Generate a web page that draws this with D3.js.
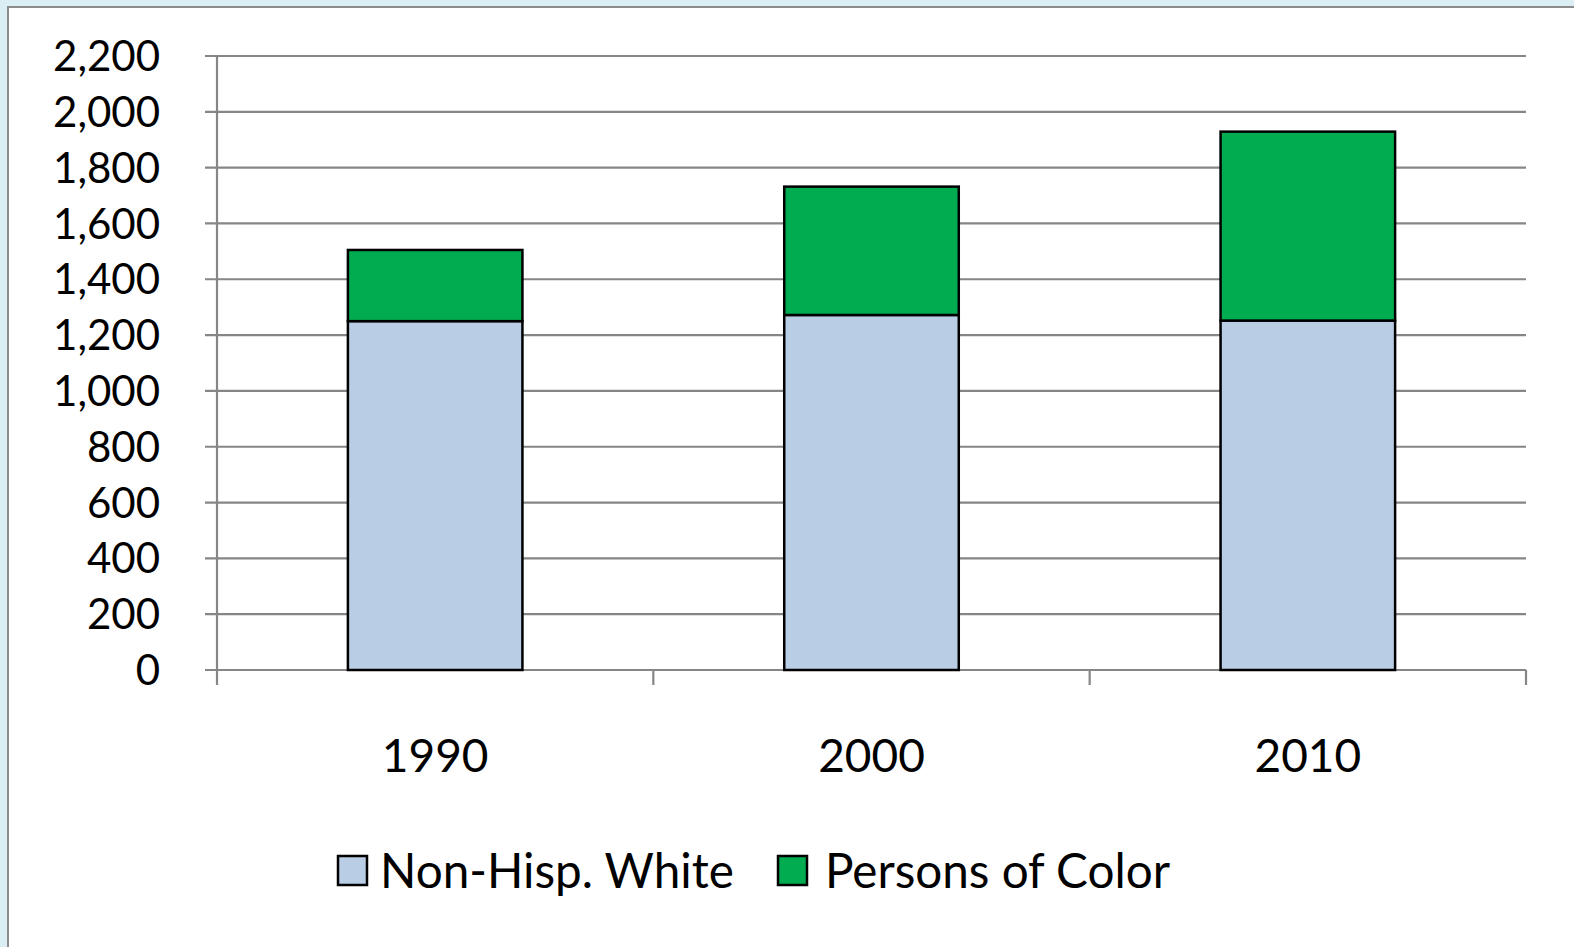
<!DOCTYPE html>
<html><head><meta charset="utf-8">
<script src="https://cdn.jsdelivr.net/npm/d3@7"></script>
<style>
html,body{margin:0;padding:0;background:#dbeef3;}
svg{display:block;}
text{font-family:Lato,"Open Sans",sans-serif;fill:#000;}
</style></head>
<body>
<svg id="c" width="1574" height="947"></svg>
<script>
const years = ["1990", "2000", "2010"];
const seriesNames = ["Non-Hisp. White", "Persons of Color"];
const nonHispWhite = [1250, 1272, 1252];
const personsOfColor = [255, 460, 677];
const yTicks = [0, 200, 400, 600, 800, 1000, 1200, 1400, 1600, 1800, 2000, 2200];
const colors = ["#b9cde5", "#00ac4f"];

const svg = d3.select("#c");
// frame
svg.append("rect").attr("x", 8).attr("y", 7).attr("width", 1600).attr("height", 1000)
  .attr("fill", "#fff").attr("stroke", "#8c8c8c").attr("stroke-width", 2);

const m = {left: 217, right: 1526, top: 56, bottom: 670};
const x = d3.scaleBand().domain(years).range([m.left, m.right]).paddingInner(0.6).paddingOuter(0.3);
const xOuter = d3.scaleBand().domain(years).range([m.left, m.right]);
const y = d3.scaleLinear().domain([0, 2200]).range([m.bottom, m.top]);

// gridlines
svg.append("g").selectAll("line").data(yTicks).join("line")
  .attr("x1", m.left - 12).attr("x2", m.right)
  .attr("y1", d => y(d)).attr("y2", d => y(d))
  .attr("stroke", "#868686").attr("stroke-width", 2.2);

// y axis line
svg.append("line").attr("x1", m.left).attr("x2", m.left).attr("y1", m.top).attr("y2", m.bottom + 15)
  .attr("stroke", "#868686").attr("stroke-width", 2.2);

// x ticks
const xt = years.map((d, i) => xOuter(d) + xOuter.bandwidth());
svg.append("g").selectAll("line").data(xt).join("line")
  .attr("x1", d => d).attr("x2", d => d).attr("y1", m.bottom).attr("y2", m.bottom + 15)
  .attr("stroke", "#868686").attr("stroke-width", 2.2);

// y labels
svg.append("g").selectAll("text").data(yTicks).join("text")
  .attr("x", 160).attr("y", d => y(d)).attr("dy", "0.36em")
  .attr("text-anchor", "end").attr("font-size", 42)
  .text(d => d3.format(",")(d));

// stacked bars
const rows = years.map((yr, i) => ({year: yr, w: nonHispWhite[i], p: personsOfColor[i]}));
const stack = d3.stack().keys(["w", "p"])(rows);
svg.append("g").selectAll("g").data(stack).join("g")
  .attr("fill", (d, i) => colors[i])
  .selectAll("rect").data(d => d).join("rect")
  .attr("x", d => x(d.data.year)).attr("width", x.bandwidth())
  .attr("y", d => y(d[1])).attr("height", d => y(d[0]) - y(d[1]))
  .attr("stroke", "#000").attr("stroke-width", 2.5);

// x labels
svg.append("g").selectAll("text").data(years).join("text")
  .attr("x", d => xOuter(d) + xOuter.bandwidth() / 2).attr("y", 772)
  .attr("text-anchor", "middle").attr("font-size", 46)
  .text(d => d);

// legend
const leg = [{x: 338, tx: 380, w: 354}, {x: 778, tx: 825, w: 345}];
const lg = svg.append("g");
seriesNames.forEach((n, i) => {
  lg.append("rect").attr("x", leg[i].x).attr("y", 856).attr("width", 29).attr("height", 29)
    .attr("fill", colors[i]).attr("stroke", "#000").attr("stroke-width", 2.5);
  const t = lg.append("text").attr("x", leg[i].tx).attr("y", 888).attr("font-size", 44).text(n);
  const len = t.node().getComputedTextLength();
  t.attr("font-size", 44 * leg[i].w / len);
});
</script>
</body></html>
